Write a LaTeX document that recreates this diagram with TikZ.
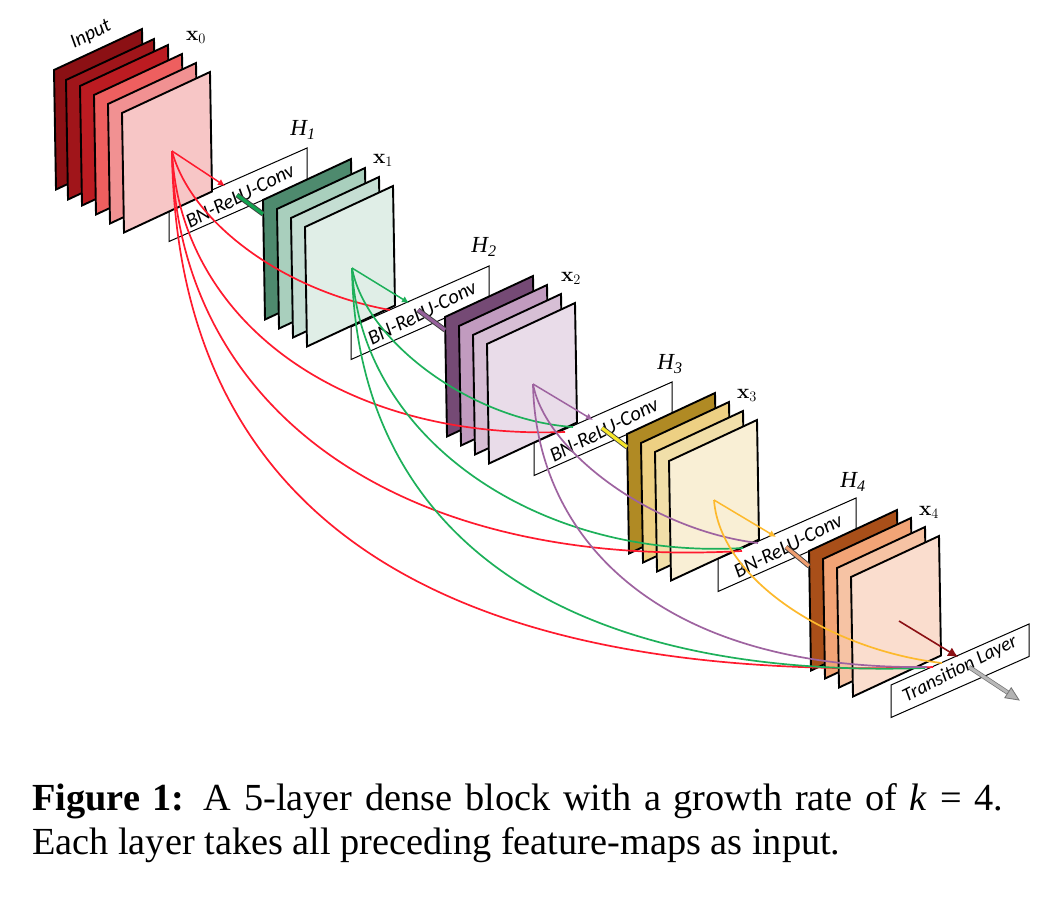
\documentclass[tikz,border=0pt]{standalone}
\usepackage[no-math]{fontspec}
\setmainfont{Liberation Serif}
\newfontfamily\lblsans{Carlito}
\usetikzlibrary{arrows.meta,calc}
\definecolor{cred}{HTML}{FF1A2E}
\definecolor{cgreen}{HTML}{1DB05A}
\definecolor{cpurple}{HTML}{9E63A0}
\definecolor{cyellow}{HTML}{FDB92C}
\definecolor{cdark}{HTML}{8B1014}
\definecolor{sgreen}{HTML}{11A24F}
\definecolor{spurple}{HTML}{95609A}
\definecolor{syellow}{HTML}{F6E62A}
\definecolor{sorange}{HTML}{EE9E70}
\tikzset{
  featplane/.style={draw=black,line width=1.9pt,line join=miter,fill=planecol},
  opbox/.style={draw=black,line width=1pt,fill=white},
  optext/.style={font=\lblsans\itshape\fontsize{20.5}{22}\selectfont,rotate=27,inner sep=0pt},
  xlabel/.style={font=\fontsize{21}{23}\selectfont,inner sep=0pt},
  hlabel/.style={font=\fontsize{23}{25}\selectfont\itshape,inner sep=0pt},
  curve/.style={line width=1.7pt,draw=#1},
  direct/.style={line width=1.5pt,draw=#1,-{Latex[length=7pt,width=7pt]}},
  stubback/.style={line width=5pt,draw=black!75},
  stubfront/.style={line width=3.2pt,draw=#1},
}
\newcommand{\fplane}[3]{\definecolor{planecol}{HTML}{#3}\draw[featplane] (#1,#2) -- ++(88,-41) -- ++(2,119.5) -- ++(-88,41) -- cycle;}
\newcommand{\opbx}[2]{\draw[opbox] (#1,#2) -- ++(138,-61) -- ++(0,32.5) -- ++(-138,61) -- cycle;}
\begin{document}
\begin{tikzpicture}[x=1pt,y=-1pt]
\useasboundingbox (0,0) rectangle (1062,914);
\fill[white] (0,0) rectangle (1062,914);
% boxes (under the planes)
\opbx{169}{209}
\opbx{351}{327}
\opbx{534}{443}
\opbx{718}{559}
\opbx{891}{685}
\node[optext] (t1) at (240,196) {BN-ReLU-Conv};
\node[optext] (t2) at (422,313) {BN-ReLU-Conv};
\node[optext] (t3) at (604,430) {BN-ReLU-Conv};
\node[optext] (t4) at (788,546) {BN-ReLU-Conv};
\node[optext,font=\lblsans\itshape\fontsize{19.5}{21}\selectfont] (t5) at (960,669) {Transition Layer};
% planes
\fplane{54}{70}{8B1014}\fplane{66}{80}{A0151A}\fplane{80}{86}{BC1B21}
\fplane{94}{95}{EE5F5F}\fplane{108}{104}{F19192}\fplane{122}{113}{F7C6C6}
\fplane{263}{200}{4E8A6E}\fplane{277}{209}{A9CFBD}\fplane{291}{218}{C5DED3}\fplane{305}{227}{E0EEE7}
\fplane{445}{317}{754A75}\fplane{459}{326}{C19BBF}\fplane{473}{335}{D7BFD5}\fplane{487}{344}{E9DCE9}
\fplane{627}{434}{B08A24}\fplane{641}{443}{EDD083}\fplane{655}{452}{F1DFA9}\fplane{669}{461}{F9EFD5}
\fplane{809}{551}{A94F19}\fplane{823}{559}{F2A476}\fplane{837}{568}{F6C3A4}\fplane{851}{577}{FADDCE}
% labels
\node[font=\lblsans\itshape\fontsize{20}{22}\selectfont,rotate=27,inner sep=0pt] (inp) at (91,35) {Input};
\node[xlabel] (x0) at (196,37) {$\mathbf{x}_0$};
\node[xlabel] (x1) at (383,160) {$\mathbf{x}_1$};
\node[xlabel] (x2) at (571,278) {$\mathbf{x}_2$};
\node[xlabel] (x3) at (747,395) {$\mathbf{x}_3$};
\node[xlabel] (x4) at (929,512) {$\mathbf{x}_4$};
\node[hlabel] (h1) at (303,130) {H\textsubscript{1}};
\node[hlabel] (h2) at (484,247) {H\textsubscript{2}};
\node[hlabel] (h3) at (670,364) {H\textsubscript{3}};
\node[hlabel] (h4) at (853,482) {H\textsubscript{4}};
% named points
\coordinate (o0) at (172,151);
\coordinate (o1) at (352,268);
\coordinate (o2) at (533,384);
\coordinate (o3) at (714,500);
\coordinate (o4) at (899,621);
\coordinate (in1) at (225,186);
\coordinate (in2) at (409,303);
\coordinate (in3) at (593,420);
\coordinate (in4) at (776,537);
\coordinate (in5) at (958,657);
% stubs
\coordinate (s1a) at (237,195); \coordinate (s1b) at (263,214);
\coordinate (s2a) at (418,310); \coordinate (s2b) at (445,330);
\coordinate (s3a) at (602,428); \coordinate (s3b) at (627,447);
\coordinate (s4a) at (786,547); \coordinate (s4b) at (809,566);
\draw[stubback] (s1a) -- (s1b); \draw[stubfront=sgreen] (s1a) -- (s1b);
\draw[stubback] (s2a) -- (s2b); \draw[stubfront=spurple] (s2a) -- (s2b);
\draw[stubback] (s3a) -- (s3b); \draw[stubfront=syellow] (s3a) -- (s3b);
\draw[stubback] (s4a) -- (s4b); \draw[stubfront=sorange] (s4a) -- (s4b);
% curves
\draw[curve=cred] (o0) .. controls (190,220) and (280,290) .. (390,310);
\draw[curve=cred] (o0) .. controls (180,320) and (340,440) .. (565,432);
\draw[curve=cred] (o0) .. controls (176,410) and (400,570) .. (742,551);
\draw[curve=cred] (o0) .. controls (176,500) and (415,685) .. (933,667);
\draw[curve=cgreen] (o1) .. controls (365,340) and (470,420) .. (573,427);
\draw[curve=cgreen] (o1) .. controls (360,440) and (540,560) .. (743,548);
\draw[curve=cgreen] (o1) .. controls (356,530) and (555,680) .. (925,668);
\draw[curve=cpurple] (o2) .. controls (545,450) and (650,530) .. (758,543);
\draw[curve=cpurple] (o2) .. controls (536,540) and (660,670) .. (927,667);
\draw[curve=cyellow] (o3) .. controls (720,580) and (830,650) .. (942,663);
% direct arrows
\draw[direct=cred] (o0) -- (in1);
\draw[direct=cgreen] (o1) -- (in2);
\draw[direct=cpurple] (o2) -- (in3);
\draw[direct=cyellow] (o3) -- (in4);
\draw[line width=1.6pt,draw=cdark,-{Latex[length=10pt,width=10pt]}] (o4) -- (in5);
% output arrow
\coordinate (oa) at (969,667); \coordinate (ob) at (1019,700);
\coordinate (oh1) at ($(oa)!0.78!(ob)+(-3.2,5)$);
\coordinate (oh2) at ($(oa)!0.78!(ob)+(3.2,-5)$);
\draw[line width=4.4pt,draw=black!55,shorten >=9pt] (oa) -- (ob);
\draw[line width=3pt,draw=black!28,shorten >=8pt] (oa) -- (ob);
\draw[line width=.8pt,draw=black!55,fill=black!30] (ob) -- (oh1) -- (oh2) -- cycle;
% caption
\node[anchor=west,inner sep=0pt,font=\fontsize{38.3}{44}\selectfont] (cap1) at (32,801)
  {\makebox[971pt][s]{\textbf{Figure 1:} A 5-layer dense block with a growth rate of \textit{k} = 4.}};
\node[anchor=west,inner sep=0pt,font=\fontsize{38.3}{44}\selectfont] (cap2) at (32,845)
  {Each layer takes all preceding feature-maps as input.};
\end{tikzpicture}
\end{document}
